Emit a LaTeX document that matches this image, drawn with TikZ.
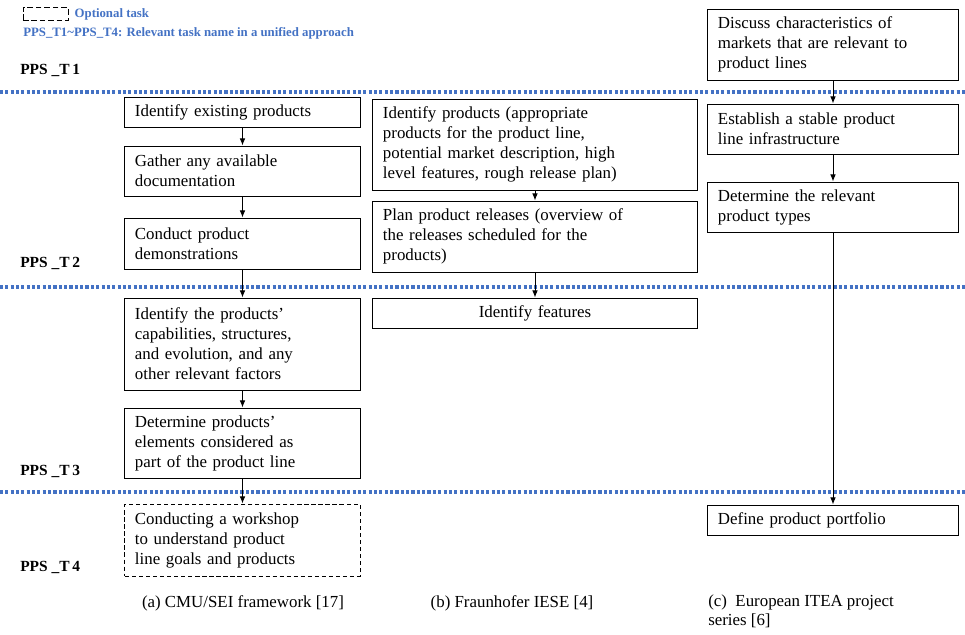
\documentclass[tikz,border=0pt]{standalone}
\usepackage{fontspec}
\setmainfont{Liberation Serif}
\usetikzlibrary{arrows.meta, positioning}
\definecolor{ppsblue}{RGB}{68,114,196}

\begin{document}
\begin{tikzpicture}[
    x=0.025cm, y=-0.025cm,
    task/.style={
        draw=black,
        line width=0.7pt,
        rectangle,
        align=left,
        inner xsep=0.25cm,
        inner ysep=0pt,
        font=\fontsize{12}{14.2}\selectfont
    },
    colA/.style={task, text width=5.375cm},
    colB/.style={task, text width=7.6cm},
    colC/.style={task, text width=5.75cm},
    optional/.style={dash pattern=on 3pt off 2pt},
    arrow/.style={
        ->,
        >={Latex[length=5pt,width=4pt]},
        line width=0.7pt,
        black
    },
    sep/.style={ppsblue, line width=2.2pt, dash pattern=on 2.2pt off 1.6pt},
    phase/.style={anchor=west, inner sep=0pt, font=\fontsize{11}{12}\selectfont\bfseries},
    legend/.style={anchor=west, inner sep=0pt, text=ppsblue, font=\fontsize{9.1}{10}\selectfont\bfseries},
    caption/.style={inner sep=0pt, font=\fontsize{12}{14.2}\selectfont}
]
\useasboundingbox (0,0) rectangle (965,634);

% Legend
\node[draw, dash pattern=on 4pt off 2pt, line width=0.6pt, minimum width=1.125cm, minimum height=0.32cm, inner sep=0pt] (optkey) at (45.5,14) {};
\node[legend, right=0.15cm of optkey] (optlabel) {Optional task};
\node[legend] (ppslabel) at (23,33) {PPS\_T1\textasciitilde PPS\_T4: Relevant task name in a unified approach};

% Phase separators
\draw[sep] (0,92) -- (965,92);
\draw[sep] (0,287) -- (965,287);
\draw[sep] (0,492) -- (965,492);

% Phase labels
\node[phase] (t1) at (20,70) {PPS \_T\,1};
\node[phase] (t2) at (20,263) {PPS \_T\,2};
\node[phase] (t3) at (20,471) {PPS \_T\,3};
\node[phase] (t4) at (20,567) {PPS \_T\,4};

% (a) CMU/SEI
\node[colA, minimum height=0.75cm] (a1) at (242.5,112) {Identify existing products};
\node[colA, minimum height=1.25cm] (a2) at (242.5,171) {Gather any available\\documentation};
\node[colA, minimum height=1.275cm] (a3) at (242.5,243.5) {Conduct product\\demonstrations};
\node[colA, minimum height=2.3cm] (a4) at (242.5,344) {Identify the products’\\capabilities, structures,\\and evolution, and any\\other relevant factors};
\node[colA, minimum height=1.75cm] (a5) at (242.5,443) {Determine products’\\elements considered as\\part of the product line};
\node[colA, optional, minimum height=1.8cm] (a6) at (242.5,540) {Conducting a workshop\\to understand product\\line goals and products};

% (b) Fraunhofer IESE
\node[colB, minimum height=2.275cm] (b1) at (535,144.5) {Identify products (appropriate\\products for the product line,\\potential market description, high\\level features, rough release plan)};
\node[colB, minimum height=1.775cm] (b2) at (535,236.5) {Plan product releases (overview of\\the releases scheduled for the\\products)};
\node[colB, align=center, minimum height=0.75cm] (b3) at (535,313) {Identify features};

% (c) ITEA
\node[colC, minimum height=1.775cm] (c1) at (833,44.5) {Discuss characteristics of\\markets that are relevant to\\product lines};
\node[colC, minimum height=1.25cm] (c2) at (833,129) {Establish a stable product\\line infrastructure};
\node[colC, minimum height=1.25cm] (c3) at (833,207) {Determine the relevant\\product types};
\node[colC, minimum height=0.75cm] (c4) at (833,520) {Define product portfolio};

% Arrows
\draw[arrow] (a1) -- (a2);
\draw[arrow] (a2) -- (a3);
\draw[arrow] (a3) -- (a4);
\draw[arrow] (a4) -- (a5);
\draw[arrow] (a5) -- (a6);
\draw[arrow] (b1) -- (b2);
\draw[arrow] (b2) -- (b3);
\draw[arrow] (c1) -- (c2);
\draw[arrow] (c2) -- (c3);
\draw[arrow] (c3) -- (c4);

% Captions
\node[caption] (capa) at (243,603) {(a) CMU/SEI framework [17]};
\node[caption] (capb) at (512,603) {(b) Fraunhofer IESE [4]};
\node[caption, anchor=north west, align=left] (capc) at (708,594) {(c)\ \ European ITEA project\\series [6]};

\end{tikzpicture}
\end{document}
